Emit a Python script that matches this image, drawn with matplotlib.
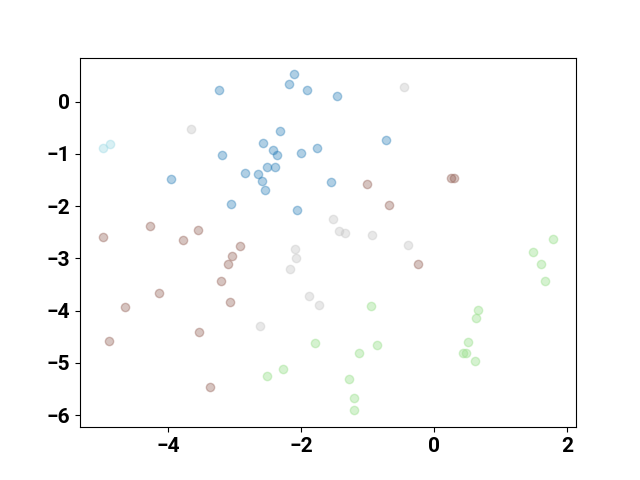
import numpy as np
import matplotlib
matplotlib.use("Agg")
import matplotlib.pyplot as plt

plt.rcParams['font.family'] = ['Roboto', 'DejaVu Sans']
plt.rcParams['font.size'] = 15
plt.rcParams['font.weight'] = 'bold'

# point groups
blue_x = [-3.24, -2.19, -2.11, -1.92, -1.47, -2.32, -2.57, -2.43, -2.37, -3.19, -2.00, -1.77,
          -2.52, -2.39, -2.85, -2.65, -2.59, -2.54, -3.96, -3.06, -2.06, -1.56, -0.73]
blue_y = [0.22, 0.33, 0.52, 0.22, 0.10, -0.57, -0.79, -0.93, -1.03, -1.03, -0.99, -0.89,
          -1.25, -1.25, -1.36, -1.38, -1.52, -1.69, -1.49, -1.96, -2.07, -1.54, -0.73]

cyan_x = [-4.99, -4.88]
cyan_y = [-0.89, -0.81]

gray_x = [-3.66, -0.46, -1.52, -1.44, -1.35, -0.94, -0.39, -2.09, -2.08, -2.17, -1.89, -1.73, -2.62]
gray_y = [-0.52, 0.27, -2.24, -2.48, -2.51, -2.56, -2.75, -2.82, -3.00, -3.21, -3.73, -3.89, -4.30]

brown_x = [-1.01, -0.69, 0.25, 0.29, -0.25, -4.99, -4.28, -3.78, -3.56, -2.92, -3.05, -3.11,
           -3.21, -3.08, -4.14, -4.65, -4.90, -3.54, -3.37]
brown_y = [-1.57, -1.97, -1.47, -1.47, -3.11, -2.59, -2.38, -2.64, -2.45, -2.76, -2.96, -3.11,
           -3.43, -3.84, -3.66, -3.94, -4.59, -4.41, -5.47]

green_x = [-1.79, -2.28, -2.52, -0.95, -0.86, -1.13, -1.28, -1.21, -1.21, 0.65, 0.62, 0.51,
           0.43, 0.47, 0.61, 1.79, 1.48, 1.60, 1.67]
green_y = [-4.62, -5.12, -5.26, -3.92, -4.66, -4.82, -5.30, -5.67, -5.91, -3.98, -4.14, -4.61,
           -4.81, -4.81, -4.97, -2.63, -2.87, -3.10, -3.44]

xticks = [-4, -2, 0, 2]

fig, ax = plt.subplots(figsize=(6.4, 4.8), dpi=100)

ax.scatter(blue_x, blue_y, color='#1f77b4', alpha=0.35)
ax.scatter(cyan_x, cyan_y, color='#9edae5', alpha=0.4)
ax.scatter(gray_x, gray_y, color='#c7c7c7', alpha=0.4)
ax.scatter(brown_x, brown_y, color='#8c564b', alpha=0.35)
ax.scatter(green_x, green_y, color='#98df8a', alpha=0.4)

ax.set_xticks(xticks)

fig.savefig('out.png')
